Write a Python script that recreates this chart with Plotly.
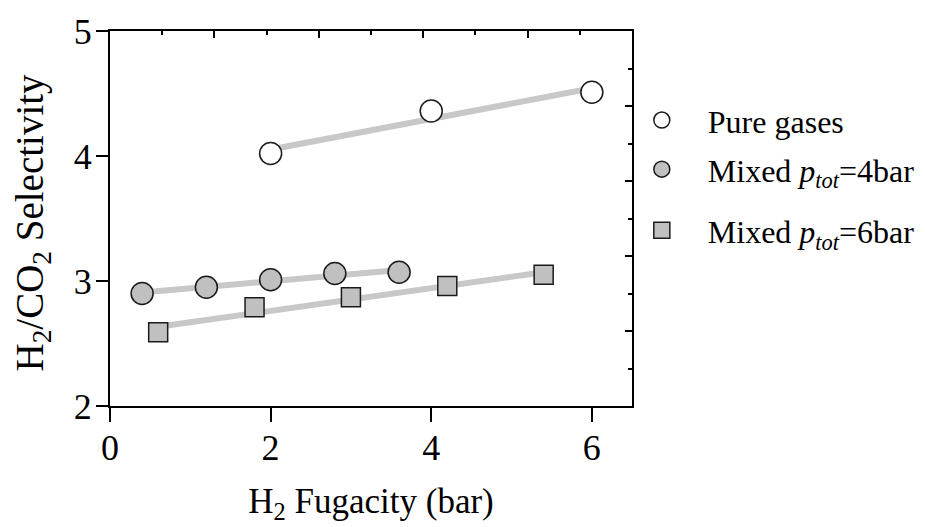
import numpy as np
import plotly.graph_objects as go

# Data
pure_x = [2.0, 4.0, 6.0]
pure_y = [4.02, 4.36, 4.51]

mix4_x = [0.4, 1.2, 2.0, 2.8, 3.6]
mix4_y = [2.90, 2.95, 3.01, 3.06, 3.07]

mix6_x = [0.6, 1.8, 3.0, 4.2, 5.4]
mix6_y = [2.59, 2.79, 2.87, 2.96, 3.05]

x_ticks = [0, 2, 4, 6]
y_ticks = [2, 3, 4, 5]

FONT = "Liberation Serif"
FILL = "#c0c0c0"
EDGE = "#1a1a1a"
FITC = "#c8c8c8"

fig = go.Figure()

def fit_line(xs, ys):
    k, b = np.polyfit(xs, ys, 1)
    xx = np.array([min(xs), max(xs)])
    return xx, k * xx + b

for xs, ys in [(pure_x, pure_y), (mix4_x, mix4_y), (mix6_x, mix6_y)]:
    fx, fy = fit_line(xs, ys)
    fig.add_trace(go.Scatter(x=fx, y=fy, mode="lines",
                             line=dict(color=FITC, width=6),
                             showlegend=False, hoverinfo="skip"))

fig.add_trace(go.Scatter(x=pure_x, y=pure_y, mode="markers", name="Pure gases",
                         legend="legend",
                         marker=dict(symbol="circle", size=22, color="white",
                                     line=dict(color=EDGE, width=1.5))))
fig.add_trace(go.Scatter(x=mix4_x, y=mix4_y, mode="markers",
                         name="Mixed <i>p</i><sub><i>tot</i></sub>=4bar",
                         legend="legend2",
                         marker=dict(symbol="circle", size=22, color=FILL,
                                     line=dict(color=EDGE, width=1.5))))
fig.add_trace(go.Scatter(x=mix6_x, y=mix6_y, mode="markers",
                         name="Mixed <i>p</i><sub><i>tot</i></sub>=6bar",
                         legend="legend3",
                         marker=dict(symbol="square", size=19, color=FILL,
                                     line=dict(color=EDGE, width=1.5))))

# invisible trace to activate the secondary (top/right) frame axes
fig.add_trace(go.Scatter(x=[None], y=[None], xaxis="x2", yaxis="y2",
                         showlegend=False, hoverinfo="skip"))

leg_common = dict(xanchor="left", yanchor="middle", itemwidth=82,
                  font=dict(size=32, family=FONT, color="black"),
                  bgcolor="rgba(0,0,0,0)", itemsizing="trace")

fig.update_layout(
    width=945, height=519,
    margin=dict(l=102, r=321, t=23, b=121, autoexpand=False),
    paper_bgcolor="white", plot_bgcolor="white",
    font=dict(family=FONT, color="black"),
    xaxis=dict(range=[0, 6.5], tickvals=x_ticks, ticks="outside", ticklen=14,
               tickwidth=2, tickcolor="black", showline=True, linewidth=2,
               linecolor="black", showgrid=False, zeroline=False,
               ticklabelstandoff=-5,
               tickfont=dict(size=36, family=FONT),
               title=dict(text="H<sub>2</sub> Fugacity (bar)",
                          font=dict(size=35, family=FONT), standoff=21)),
    yaxis=dict(range=[2, 5], tickvals=y_ticks, ticks="outside", ticklen=12,
               tickwidth=2, tickcolor="black", showline=True, linewidth=2,
               linecolor="black", showgrid=False, zeroline=False,
               ticklabelstandoff=-3,
               tickfont=dict(size=36, family=FONT)),
    xaxis2=dict(overlaying="x", side="top", range=[0, 10], dtick=2, tick0=0,
                ticks="inside", ticklen=7, tickwidth=1.5, tickcolor="black",
                minor=dict(dtick=1, ticks="inside", ticklen=4, tickwidth=1.5,
                           tickcolor="black", showgrid=False),
                showticklabels=False, showline=True, linewidth=1.5,
                linecolor="black", showgrid=False, zeroline=False),
    yaxis2=dict(overlaying="y", side="right", range=[0, 10], dtick=2, tick0=0,
                ticks="inside", ticklen=7, tickwidth=1.5, tickcolor="black",
                minor=dict(dtick=1, ticks="inside", ticklen=4, tickwidth=1.5,
                           tickcolor="black", showgrid=False),
                showticklabels=False, showline=True, linewidth=1.5,
                linecolor="black", showgrid=False, zeroline=False),
    legend=dict(x=0.969, y=0.762, **leg_common),
    legend2=dict(x=0.969, y=0.631, **leg_common),
    legend3=dict(x=0.969, y=0.468, **leg_common),
    showlegend=True,
    annotations=[dict(text="H<sub>2</sub>/CO<sub>2</sub> Selectivity",
                      textangle=-90, xref="paper", yref="paper",
                      x=-0.149, y=0.49, xanchor="center", yanchor="middle",
                      showarrow=False,
                      font=dict(size=39, family=FONT, color="black"))],
)

fig.write_html("out.html")
